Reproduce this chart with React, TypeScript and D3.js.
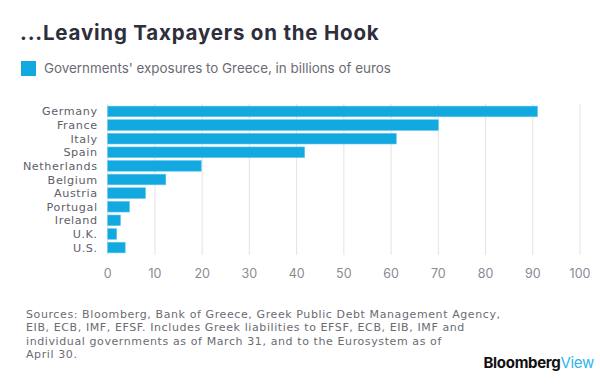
import * as d3 from "d3";
import { useRef, useEffect } from "react";

const countries = [
  "Germany",
  "France",
  "Italy",
  "Spain",
  "Netherlands",
  "Belgium",
  "Austria",
  "Portugal",
  "Ireland",
  "U.K.",
  "U.S.",
];
const exposures = [91.0, 70.0, 61.1, 41.7, 19.8, 12.3, 8.0, 4.6, 2.7, 1.9, 3.7];
const xTicks = [0, 10, 20, 30, 40, 50, 60, 70, 80, 90, 100];

const titleText = "...Leaving Taxpayers on the Hook";
const legendText = "Governments' exposures to Greece, in billions of euros";
const sourceLines = [
  "Sources: Bloomberg, Bank of Greece, Greek Public Debt Management Agency,",
  "EIB, ECB, IMF, EFSF. Includes Greek liabilities to EFSF, ECB, EIB, IMF and",
  "individual governments as of March 31, and to the Eurosystem as of",
  "April 30.",
];

export default function App() {
  const width = 600;
  const height = 392;
  const marginLeft = 107.7;
  const marginRight = 20;
  const plotTop = 104;
  const plotBottom = 255;
  const font = "Inter, 'Liberation Sans', Arial, sans-serif";
  const noteFont = "'DejaVu Sans', Inter, sans-serif";
  const barColor = "#12a8e0";

  const ref = useRef(null);

  useEffect((): void => {
    if (!ref.current) return;
    const svg = d3.select(ref.current);
    svg.selectAll("*").remove();

    svg.append("rect").attr("width", width).attr("height", height).attr("fill", "#fff");

    const x = d3
      .scaleLinear()
      .domain([0, 100])
      .range([marginLeft, width - marginRight]);

    const y = d3
      .scaleBand<string>()
      .domain(countries)
      .range([plotTop + 0.5, plotBottom - 0.5])
      .paddingInner(0.22)
      .paddingOuter(0.12);

    // title
    svg
      .append("text")
      .attr("x", 20)
      .attr("y", 40)
      .attr("font-family", font)
      .attr("font-weight", "bold")
      .attr("font-size", 20.5)
      .attr("letter-spacing", 0.8)
      .attr("fill", "#2f2e3c")
      .text(titleText);

    // legend
    svg
      .append("rect")
      .attr("x", 21)
      .attr("y", 61)
      .attr("width", 15)
      .attr("height", 15)
      .attr("fill", barColor);
    svg
      .append("text")
      .attr("x", 44)
      .attr("y", 73)
      .attr("font-family", font)
      .attr("font-size", 13.4)
      .attr("fill", "#6b6b73")
      .text(legendText);

    // gridlines
    svg
      .append("g")
      .selectAll("line")
      .data(xTicks)
      .enter()
      .append("line")
      .attr("x1", (d) => x(d))
      .attr("x2", (d) => x(d))
      .attr("y1", plotTop)
      .attr("y2", plotBottom)
      .attr("stroke", "#e3e3e3")
      .attr("stroke-width", 1);

    // bars
    svg
      .append("g")
      .selectAll("rect")
      .data(exposures)
      .enter()
      .append("rect")
      .attr("x", x(0))
      .attr("y", (_, i) => y(countries[i]) as number)
      .attr("width", (d) => x(d) - x(0))
      .attr("height", y.bandwidth())
      .attr("fill", barColor)
      .attr("stroke", "#5cc6ee")
      .attr("stroke-width", 0.6);

    // category labels
    svg
      .append("g")
      .selectAll("text")
      .data(countries)
      .enter()
      .append("text")
      .attr("x", marginLeft - 10)
      .attr("y", (d) => (y(d) as number) + y.bandwidth() / 2)
      .attr("dy", "0.36em")
      .attr("text-anchor", "end")
      .attr("font-family", noteFont)
      .attr("font-size", 11.2)
      .attr("letter-spacing", 0.6)
      .attr("fill", "#60606a")
      .text((d) => d);

    // x tick labels
    svg
      .append("g")
      .selectAll("text")
      .data(xTicks)
      .enter()
      .append("text")
      .attr("x", (d) => x(d))
      .attr("y", 278)
      .attr("text-anchor", "middle")
      .attr("font-family", font)
      .attr("font-size", 12.5)
      .attr("fill", "#8a8a92")
      .text((d) => String(d));

    // sources
    svg
      .append("g")
      .selectAll("text")
      .data(sourceLines)
      .enter()
      .append("text")
      .attr("x", 26)
      .attr("y", (_, i) => 318 + i * 13.4)
      .attr("font-family", noteFont)
      .attr("font-size", 11)
      .attr("letter-spacing", 0.6)
      .attr("fill", "#6b6b73")
      .text((d) => d);

    // logo
    const logo = svg
      .append("text")
      .attr("x", 594)
      .attr("y", 368)
      .attr("text-anchor", "end")
      .attr("font-family", font)
      .attr("font-size", 15)
      .attr("letter-spacing", "-0.3");
    logo.append("tspan").attr("font-weight", "bold").attr("fill", "#111").text("Bloomberg");
    logo.append("tspan").attr("fill", "#2fb6ea").text("View");
  }, []);

  return (
    <svg
      ref={ref}
      width={width}
      height={height}
      style={{ position: "absolute", left: 0, top: 0 }}
    />
  );
}
